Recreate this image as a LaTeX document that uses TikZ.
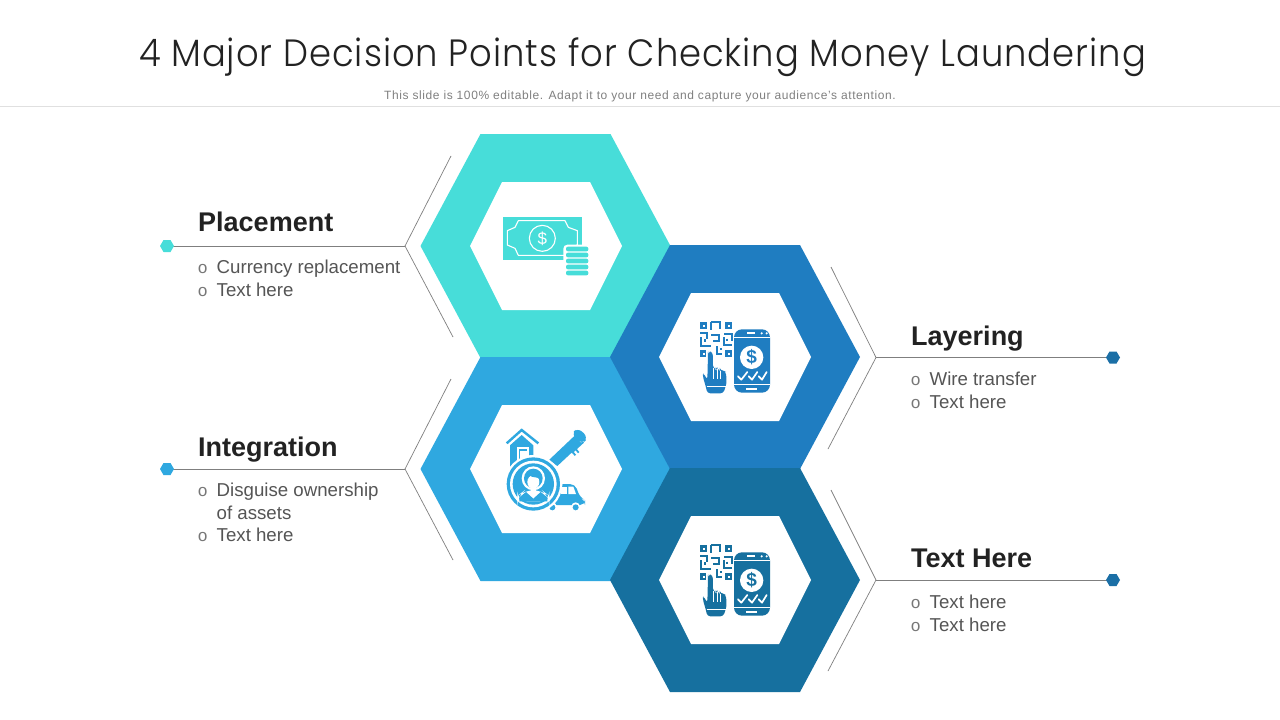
\documentclass[tikz,border=0pt]{standalone}
\usepackage{fontspec}
\setmainfont{Liberation Sans}
\newfontfamily\titlefont[LetterSpace=2.6,FakeStretch=0.93]{Poppins Light}
\newfontfamily\subfont[LetterSpace=5]{Liberation Sans}
\newfontfamily\bulfont{Liberation Mono}
\definecolor{cteal}{HTML}{47DDD9}
\definecolor{cblue}{HTML}{1F7DC1}
\definecolor{clight}{HTML}{2FA8E0}
\definecolor{cdark}{HTML}{16709F}
\definecolor{cdot}{HTML}{1B6FA6}
\definecolor{ctext}{HTML}{222222}
\definecolor{cbody}{HTML}{555555}
\definecolor{cbul}{HTML}{777777}
\definecolor{cline}{HTML}{7F7F7F}
\tikzset{
  x=1pt,y=-1pt,
  head/.style={anchor=base west,inner sep=0pt,text=ctext,font=\fontsize{27}{30}\selectfont\bfseries},
  body/.style={anchor=base west,inner sep=0pt,text=cbody,font=\fontsize{18.67}{22}\selectfont},
  bul/.style={anchor=base west,inner sep=0pt,text=cbul,font=\bulfont\fontsize{17}{20}\selectfont},
  leader/.style={draw=cline,line width=0.9pt},
  thin/.style={draw=cline,line width=0.7pt},
}
\newcommand{\bighex}[3]{%
  \fill[#3] (#1-125,#2) -- (#1-65,#2-112) -- (#1+65,#2-112) -- (#1+125,#2) -- (#1+65,#2+112) -- (#1-65,#2+112) -- cycle;}
\newcommand{\innerhex}[2]{%
  \fill[white] (#1-76,#2) -- (#1-44,#2-64) -- (#1+44,#2-64) -- (#1+76,#2) -- (#1+44,#2+64) -- (#1-44,#2+64) -- cycle;}
\newcommand{\dothex}[3]{%
  \fill[#3] (#1-7,#2) -- (#1-3.5,#2-6) -- (#1+3.5,#2-6) -- (#1+7,#2) -- (#1+3.5,#2+6) -- (#1-3.5,#2+6) -- cycle;}
\newcommand{\phoneicon}[3]{%
\begin{scope}[shift={(#1,#2)},scale=1/3]
  \fill[#3,rounded corners=8] (192,88) rectangle (300,278);
  \fill[white] (192,110) rectangle (300,114);
  \fill[white] (192,252) rectangle (300,256);
  \fill[white] (232,97) rectangle (256,103);
  \fill[white] (275,100) circle (3.5);
  \fill[white] (290,100) circle (3.5);
  \fill[white] (228,265) rectangle (262,271);
  \fill[white] (245,172) circle (35);
  \node[inner sep=0pt,text=#3] at (245,172) {\fontsize{19}{20}\selectfont\bfseries\$};
  \foreach \ca/\cb/\cc in {204/214/232,236/246/262,266/276/290}{
    \draw[white,line width=1.7pt,line cap=round,line join=round] (\ca,229) -- (\cb,239) -- (\cc,216);
  }
  % QR
  \foreach \qx/\qy in {90/66,165/66,90/150,165/150}{
    \fill[#3] (\qx,\qy) rectangle (\qx+22,\qy+22);
    \fill[white] (\qx+8,\qy+8) rectangle (\qx+14,\qy+14);
  }
  \draw[#3,line width=2.3pt,line join=miter]
    (124,66) -- (150,66) -- (150,86) (124,66) -- (124,90)
    (90,100) -- (112,100) -- (112,116) (92,112) -- (92,138) -- (122,138)
    (124,104) -- (148,104) -- (148,124) -- (128,124)
    (162,102) -- (186,102) -- (186,122)
    (162,112) -- (162,134) -- (186,134) (140,138) -- (140,162) -- (155,162)
    (104,118) -- (104,126) (172,116) -- (172,122) (152,144) -- (152,150);
  % hand
  \fill[white] (109,150) rectangle (134,205);
  \fill[#3,rounded corners=3] (114,162) -- (114,155) -- (128,155) -- (129,205) -- (139,207) -- (140,210)
     -- (141,208) -- (150,208) -- (151,212) -- (160,212) -- (168,216) -- (170,250) -- (160,280)
     -- (112,280) -- (108,262) -- (98,228) -- (100,218) -- (112,240) -- cycle;
  \draw[white,line width=0.7pt] (129,205) -- (129,236) (141,208) -- (141,236) (152,212) -- (152,236);
  \draw[white,line width=0.7pt] (110,258) -- (168,258);
\end{scope}}
\begin{document}
\begin{tikzpicture}
\useasboundingbox (0,0) rectangle (1280,720);
\fill[white] (0,0) rectangle (1280,720);
% title
\node[anchor=base,inner sep=0pt,text=ctext] (title) at (642.5,66) {\titlefont\fontsize{38}{44}\selectfont 4 Major Decision Points for Checking Money Laundering};
\node[anchor=base,inner sep=0pt,text=black!50] (subtitle) at (640,99) {\subfont\fontsize{12}{14}\selectfont This slide is 100\% editable. Adapt it to your need and capture your audience’s attention.};
\coordinate (ruleL) at (0,106.5);
\coordinate (ruleR) at (1280,106.5);
\draw[black!12,line width=0.8pt] (ruleL) -- (ruleR);
% hexagons
\bighex{545.5}{246}{cteal}
\bighex{545.5}{469}{clight}
\bighex{735}{357}{cblue}
\bighex{735}{580}{cdark}
\innerhex{546}{246}
\innerhex{546}{469}
\innerhex{735}{357}
\innerhex{735}{580}
% money icon
\begin{scope}[shift={(470,180)},scale=1/3]
  \fill[cteal] (99,110) rectangle (335,240);
  \draw[white,line width=1.1pt,line join=round] (145,122) -- (285,122) -- (295,142) -- (322,152) -- (322,195) -- (295,205) -- (285,226) -- (145,226) -- (135,205) -- (112,195) -- (112,152) -- (135,142) -- cycle;
  \draw[white,line width=1.1pt] (217,175) circle (39);
  \node[inner sep=0pt,text=white] at (217,175) {\fontsize{17}{18}\selectfont \$};
  \fill[white,rounded corners=4] (280,194) rectangle (362,292);
  \foreach \cy in {200,218,236,254,272}{
    \fill[cteal,rounded corners=2] (288,\cy) rectangle (355,\cy+14);
  }
\end{scope}
% phone icons
\phoneicon{670}{300}{cblue}
\phoneicon{670}{523}{cdark}
% person/house/pen/car icon
\begin{scope}[shift={(480,410)},scale=1/3]
  % house
  \draw[clight,line width=2.4pt,line join=miter] (80,100) -- (125,60) -- (175,100);
  \fill[clight] (90,106) -- (125,75) -- (160,106) -- (160,170) -- (90,170) -- cycle;
  \fill[white] (110,112) rectangle (146,160);
  \fill[clight] (116,118) rectangle (140,160);
  \fill[white] (121,123) rectangle (140,160);
  % pen
  \fill[clight] (207,150) -- (283,78) -- (305,100) -- (232,168) -- cycle;
  \fill[clight,rotate around={-43:(295,75)},rounded corners=6] (278,60) rectangle (322,88);
  \draw[clight,line width=1.8pt] (275,128) -- (310,96) (288,118) -- (296,128) (278,126) -- (286,136);
  % car
  \fill[clight,rounded corners=5] (215,285) -- (215,255) -- (238,222) -- (285,222) -- (300,262) -- (315,270) -- (315,285) -- cycle;
  \fill[white] (244,230) rectangle (260,252);
  \fill[white] (265,230) -- (280,230) -- (288,252) -- (265,252) -- cycle;
  \fill[white] (205,272) rectangle (225,300);
  \fill[white] (217,290) circle (13);
  \fill[clight] (217,292) circle (9);
  \fill[white] (287,290) circle (13);
  \fill[clight] (287,292) circle (9);
  % magnifier
  \fill[white] (160,222) circle (87);
  \fill[clight] (160,222) circle (80);
  \fill[white] (160,222) circle (70);
  \fill[clight] (160,222) circle (62);
  % person
  \fill[white,rounded corners=10] (112,274) -- (112,258) -- (135,240) -- (185,240) -- (208,258) -- (208,274) -- cycle;
  \fill[clight] (118,274) -- (118,262) -- (138,246) -- (160,266) -- (182,246) -- (202,262) -- (202,274) -- cycle;
  \fill[white] (160,205) ellipse (35 and 36);
  \fill[clight] (160,205) ellipse (28 and 29);
  \fill[white] (160,216) ellipse (18 and 20);
  \fill[clight] (145,192) -- (176,192) -- (176,204) -- (155,200) -- cycle;
  \fill[white] (152,228) rectangle (168,246);
\end{scope}
% leaders
\coordinate (pA) at (167,246); \coordinate (pB) at (405,246); \coordinate (pC) at (451,156); \coordinate (pD) at (453,337);
\coordinate (iA) at (167,469); \coordinate (iB) at (405,469); \coordinate (iC) at (451,379); \coordinate (iD) at (453,560);
\coordinate (lA) at (1113,357.5); \coordinate (lB) at (876,357.5); \coordinate (lC) at (831,267); \coordinate (lD) at (828,449);
\coordinate (tA) at (1113,580); \coordinate (tB) at (876,580); \coordinate (tC) at (831,490); \coordinate (tD) at (828,671);
\foreach \n in {p,i,l,t}{
  \draw[leader] (\n A) -- (\n B);
  \draw[thin] (\n C) -- (\n B) -- (\n D);
}
\dothex{167}{246}{cteal}
\dothex{167}{469}{clight}
\dothex{1113}{357.5}{cdot}
\dothex{1113}{580}{cdot}
% text
\node[head] (h1) at (198,231) {Placement};
\node[bul] (b1a) at (197.5,273) {o}; \node[body] (t1a) at (216.5,273) {Currency replacement};
\node[bul] (b1b) at (197.5,296) {o}; \node[body] (t1b) at (216.5,296) {Text here};
\node[head] (h2) at (911,345) {Layering};
\node[bul] (b2a) at (910.5,385) {o}; \node[body] (t2a) at (929.5,385) {Wire transfer};
\node[bul] (b2b) at (910.5,408) {o}; \node[body] (t2b) at (929.5,408) {Text here};
\node[head] (h3) at (198,456) {Integration};
\node[bul] (b3a) at (197.5,496) {o}; \node[body] (t3a) at (216.5,496) {Disguise ownership};
\node[body] (t3a2) at (216.5,519) {of assets};
\node[bul] (b3b) at (197.5,541) {o}; \node[body] (t3b) at (216.5,541) {Text here};
\node[head] (h4) at (911,567) {Text Here};
\node[bul] (b4a) at (910.5,608) {o}; \node[body] (t4a) at (929.5,608) {Text here};
\node[bul] (b4b) at (910.5,631) {o}; \node[body] (t4b) at (929.5,631) {Text here};
\end{tikzpicture}
\end{document}
